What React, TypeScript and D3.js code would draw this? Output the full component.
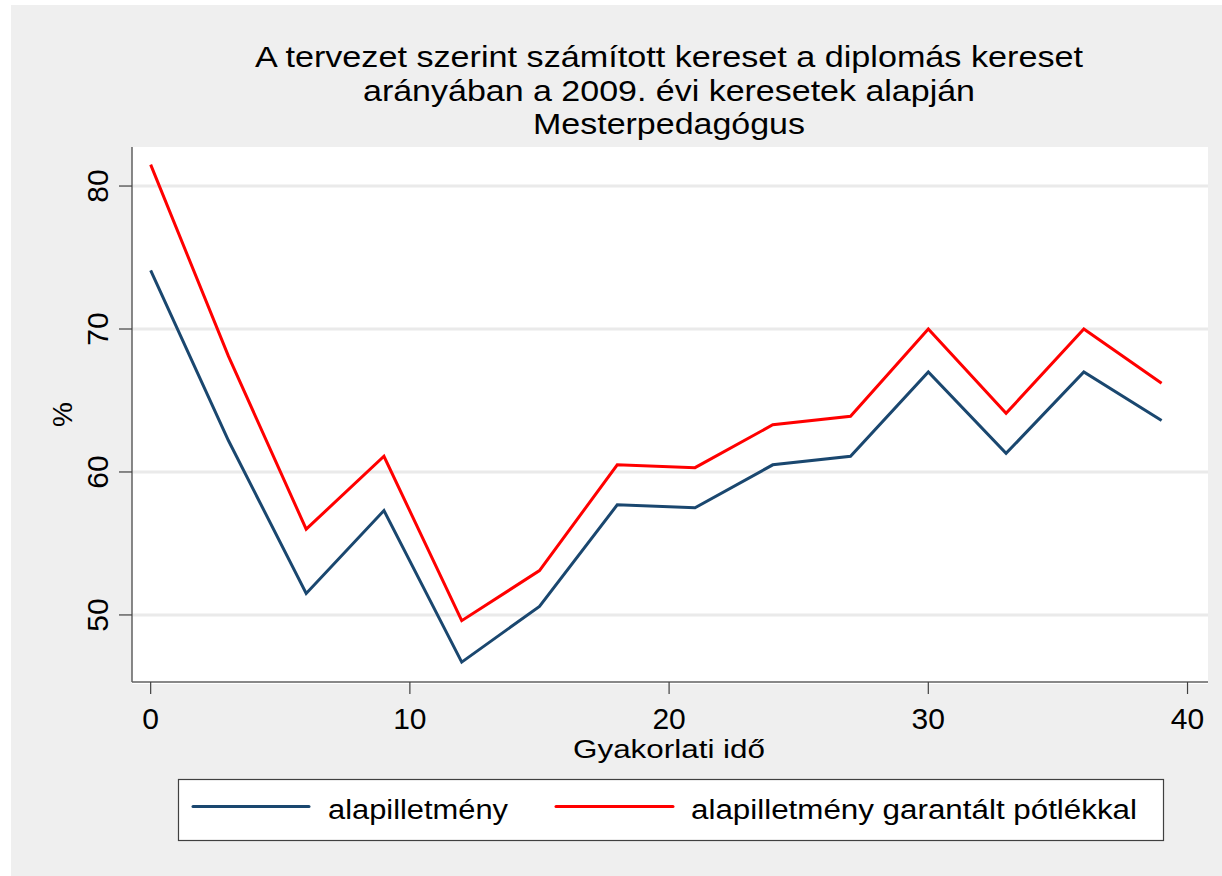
import React from "react";
import * as d3 from "d3";

const years = [0, 3, 6, 9, 12, 15, 18, 21, 24, 27, 30, 33, 36, 39];
const alap = [74.1, 62.2, 51.5, 57.3, 46.7, 50.6, 57.7, 57.5, 60.5, 61.1, 67.0, 61.3, 67.0, 63.6];
const garantalt = [81.5, 68.1, 56.0, 61.1, 49.6, 53.1, 60.5, 60.3, 63.3, 63.9, 70.0, 64.1, 70.0, 66.2];
const xTicks = [0, 10, 20, 30, 40];
const yTicks = [50, 60, 70, 80];
const titleLines = [
  "A tervezet szerint számított kereset a diplomás kereset",
  "arányában a 2009. évi keresetek alapján",
  "Mesterpedagógus",
];
const seriesNames = ["alapilletmény", "alapilletmény garantált pótlékkal"];
const seriesColors = ["#1a476f", "#ff0000"];

const FONT = "'Liberation Sans', Arial, Helvetica, sans-serif";

export default function App() {
  const left = 132, right = 1208, top = 147, bottom = 682;
  const x = d3.scaleLinear().domain([-0.72, 40.79]).range([left, right]);
  const y = d3.scaleLinear().domain([45.31, 82.73]).range([bottom, top]);
  const line = d3
    .line<number>()
    .x((_, i) => x(years[i]))
    .y((d) => y(d));
  const series = [alap, garantalt];
  const titleBaselines = [66.7, 100.7, 133.5];
  const titleWidths = [828, 612, 272];
  const cx = 669;

  return (
    <svg
      width={1222}
      height={876}
      style={{ position: "absolute", left: 0, top: 0, display: "block" }}
      fontFamily={FONT}
    >
      <rect x={0} y={0} width={1222} height={876} fill="#ffffff" />
      <rect x={11} y={5} width={1211} height={871} fill="#efefef" />
      {/* title */}
      {titleLines.map((t, i) => (
        <text
          key={i}
          x={cx}
          y={titleBaselines[i]}
          textAnchor="middle"
          fontSize={30}
          fill="#000"
          textLength={titleWidths[i]}
          lengthAdjust="spacingAndGlyphs"
        >
          {t}
        </text>
      ))}
      {/* plot region */}
      <rect x={left} y={top} width={right - left} height={bottom - top + 2} fill="#ffffff" />
      {yTicks.map((t) => (
        <line key={t} x1={left} x2={right} y1={y(t)} y2={y(t)} stroke="#eaeaea" strokeWidth={3} />
      ))}
      {series.map((s, i) => (
        <path
          key={i}
          d={line(s) || ""}
          fill="none"
          stroke={seriesColors[i]}
          strokeWidth={3}
          strokeLinejoin="miter"
        />
      ))}
      {/* axes */}
      <line x1={left} x2={left} y1={top} y2={bottom} stroke="#606060" strokeWidth={1.5} />
      <line x1={left} x2={right} y1={bottom} y2={bottom} stroke="#606060" strokeWidth={1.5} />
      {yTicks.map((t) => (
        <g key={t}>
          <line x1={left - 13} x2={left} y1={y(t)} y2={y(t)} stroke="#404040" strokeWidth={1.2} />
          <text
            transform={`translate(108,${y(t)}) rotate(-90)`}
            textAnchor="middle"
            fontSize={30}
            fill="#000"
          >
            {t}
          </text>
        </g>
      ))}
      {xTicks.map((t) => (
        <g key={t}>
          <line x1={x(t)} x2={x(t)} y1={bottom} y2={bottom + 12} stroke="#404040" strokeWidth={1.2} />
          <text x={x(t)} y={728.5} textAnchor="middle" fontSize={30} fill="#000">
            {t}
          </text>
        </g>
      ))}
      <text
        x={669}
        y={758}
        textAnchor="middle"
        fontSize={26}
        fill="#000"
        textLength={192}
        lengthAdjust="spacingAndGlyphs"
      >
        Gyakorlati idő
      </text>
      <text
        transform={`translate(72,${(top + bottom) / 2}) rotate(-90)`}
        textAnchor="middle"
        fontSize={28}
        fill="#000"
      >
        %
      </text>
      {/* legend */}
      <rect x={178.5} y={779.5} width={985} height={61} fill="#ffffff" stroke="#404040" strokeWidth={1.2} />
      <line x1={193} x2={309} y1={806.5} y2={806.5} stroke={seriesColors[0]} strokeWidth={3} strokeLinecap="round" />
      <text x={328} y={819} fontSize={27} fill="#000" textLength={180} lengthAdjust="spacingAndGlyphs">
        {seriesNames[0]}
      </text>
      <line x1={556} x2={673} y1={806.5} y2={806.5} stroke={seriesColors[1]} strokeWidth={3} strokeLinecap="round" />
      <text x={691} y={819} fontSize={27} fill="#000" textLength={446} lengthAdjust="spacingAndGlyphs">
        {seriesNames[1]}
      </text>
    </svg>
  );
}
